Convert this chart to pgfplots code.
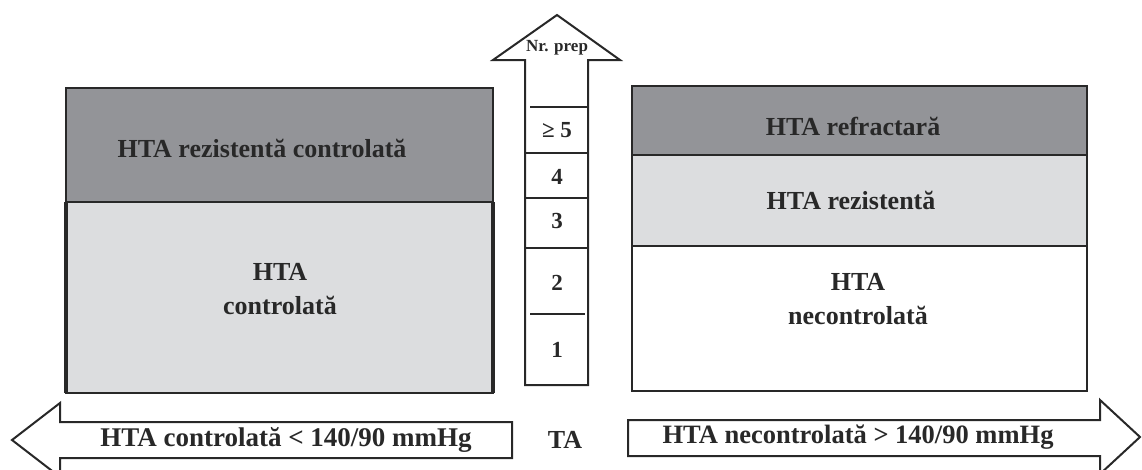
\documentclass[border=0pt]{standalone}
\usepackage{pgfplots}
\pgfplotsset{compat=1.18}
\usepackage{fontspec}
\setmainfont{Liberation Serif}
\definecolor{darkbox}{RGB}{147,148,152}
\definecolor{lightbox}{RGB}{220,221,223}
\definecolor{ink}{RGB}{40,40,40}
\tikzset{
  lbl/.style={font=\bfseries\fontsize{26}{34}\selectfont, text=ink, align=center},
  num/.style={font=\bfseries\fontsize{23}{26}\selectfont, text=ink},
}
\begin{document}
\begin{tikzpicture}
\begin{axis}[
    width=1142pt, height=469pt,
    scale only axis,
    xmin=0, xmax=1142,
    ymin=0, ymax=469,
    y dir=reverse,
    axis lines=none,
    ticks=none,
    clip=true,
  ]
% left block
\addplot[fill=lightbox, draw=ink, line width=2.5pt] coordinates {(66,202) (493,202) (493,393) (66,393)} --cycle;
\addplot[draw=ink, line width=4pt] coordinates {(66,202) (66,393)};
\addplot[draw=ink, line width=4pt] coordinates {(493,202) (493,393)};
\addplot[fill=darkbox, draw=ink, line width=2.5pt] coordinates {(66,88) (493,88) (493,202) (66,202)} --cycle;
% right block
\addplot[fill=white, draw=ink, line width=2.5pt] coordinates {(632,246) (1087,246) (1087,391) (632,391)} --cycle;
\addplot[fill=lightbox, draw=ink, line width=2.5pt] coordinates {(632,155) (1087,155) (1087,246) (632,246)} --cycle;
\addplot[fill=darkbox, draw=ink, line width=2.5pt] coordinates {(632,86) (1087,86) (1087,155) (632,155)} --cycle;
% central arrow (number of drugs)
\addplot[fill=white, draw=ink, line width=2pt] coordinates {(525,385) (525,60) (493,60) (557,15) (620,60) (588,60) (588,385)} --cycle;
\addplot[draw=ink, line width=1.5pt] coordinates {(530,107) (588,107)};
\addplot[draw=ink, line width=1.5pt] coordinates {(525,153) (588,153)};
\addplot[draw=ink, line width=1.5pt] coordinates {(525,198) (588,198)};
\addplot[draw=ink, line width=1.5pt] coordinates {(525,248) (588,248)};
\addplot[draw=ink, line width=1.5pt] coordinates {(530,314) (585,314)};
% bottom arrows
\addplot[fill=white, draw=ink, line width=2pt] coordinates {(512,422) (60,422) (60,403) (12,440) (60,477) (60,458) (512,458)} --cycle;
\addplot[fill=white, draw=ink, line width=2pt] coordinates {(628,420) (1100,420) (1100,400) (1140,437) (1100,474) (1100,456) (628,456)} --cycle;

\node[lbl] at (axis cs:262,148) {HTA rezistentă controlată};
\node[lbl] at (axis cs:280,289) {HTA\\controlată};
\node[lbl] at (axis cs:853,126) {HTA refractară};
\node[lbl] at (axis cs:851,200) {HTA rezistentă};
\node[lbl] at (axis cs:858,299) {HTA\\necontrolată};
\node[lbl, font=\bfseries\fontsize{17}{20}\selectfont] at (axis cs:557,48) {Nr. prep};
\node[num] at (axis cs:557,130) {≥ 5};
\node[num] at (axis cs:557,177) {4};
\node[num] at (axis cs:557,221) {3};
\node[num] at (axis cs:557,283) {2};
\node[num] at (axis cs:557,350) {1};
\node[lbl, font=\bfseries\fontsize{27}{30}\selectfont] at (axis cs:286,440) {HTA controlată < 140/90 mmHg};
\node[lbl] at (axis cs:565,440) {TA};
\node[lbl, font=\bfseries\fontsize{26.5}{30}\selectfont] at (axis cs:858,437) {HTA necontrolată > 140/90 mmHg};
\end{axis}
\path (current axis.south west) rectangle (current axis.north east);
\end{tikzpicture}
\end{document}
